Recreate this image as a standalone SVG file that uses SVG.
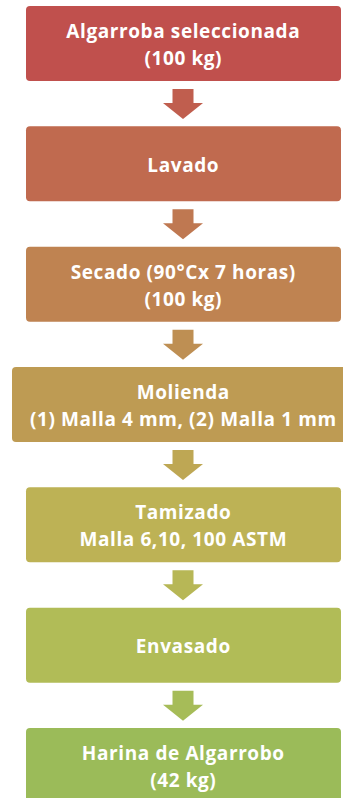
<svg xmlns="http://www.w3.org/2000/svg" width="343" height="798" viewBox="0 0 343 798">
<style>
.t{font-family:"Open Sans","Noto Sans",sans-serif;font-weight:bold;font-size:19px;letter-spacing:0.6px;fill:#fff;text-anchor:middle}
</style>
<defs>
<path id="arr" d="M172.5,0 H193.5 V14 H203 L183,30 L163,14 H172.5 Z"/>
</defs>
<rect width="343" height="798" fill="#fff"/>
<g id="connectors">
<use href="#arr" y="89" fill="#C05E4E"/>
<use href="#arr" y="209.3" fill="#BF7851"/>
<use href="#arr" y="329.7" fill="#BE8F53"/>
<use href="#arr" y="450" fill="#BEA754"/>
<use href="#arr" y="570.3" fill="#B7B756"/>
<use href="#arr" y="690.7" fill="#A6BC58"/>
</g>
<g id="n1"><rect x="26" y="6" width="315" height="75" rx="4" fill="#C0504D"/>
<text class="t" x="183.3" y="38">Algarroba seleccionada</text><text class="t" x="183.3" y="65">(100 kg)</text></g>
<g id="n2"><rect x="26" y="126.3" width="315" height="75" rx="4" fill="#C06A4F"/>
<text class="t" x="183.3" y="171.5">Lavado</text></g>
<g id="n3"><rect x="26" y="246.7" width="315" height="75" rx="4" fill="#BF8351"/>
<text class="t" x="183.3" y="278.7">Secado (90°Cx 7 horas)</text><text class="t" x="183.3" y="305.7">(100 kg)</text></g>
<g id="n4"><rect x="12" y="367" width="342" height="75" rx="4" fill="#BE9B53"/>
<text class="t" x="183.3" y="399">Molienda</text><text class="t" x="183.3" y="426">(1) Malla 4 mm, (2) Malla 1 mm</text></g>
<g id="n5"><rect x="26" y="487.3" width="315" height="75" rx="4" fill="#BDB255"/>
<text class="t" x="183.3" y="519.3">Tamizado</text><text class="t" x="183.3" y="546.3">Malla 6,10, 100 ASTM</text></g>
<g id="n6"><rect x="26" y="607.7" width="315" height="75" rx="4" fill="#B1BC57"/>
<text class="t" x="183.3" y="652.9">Envasado</text></g>
<g id="n7"><rect x="26" y="728" width="315" height="75" rx="4" fill="#9BBB59"/>
<text class="t" x="183.3" y="760">Harina de Algarrobo</text><text class="t" x="183.3" y="787">(42 kg)</text></g>
</svg>
